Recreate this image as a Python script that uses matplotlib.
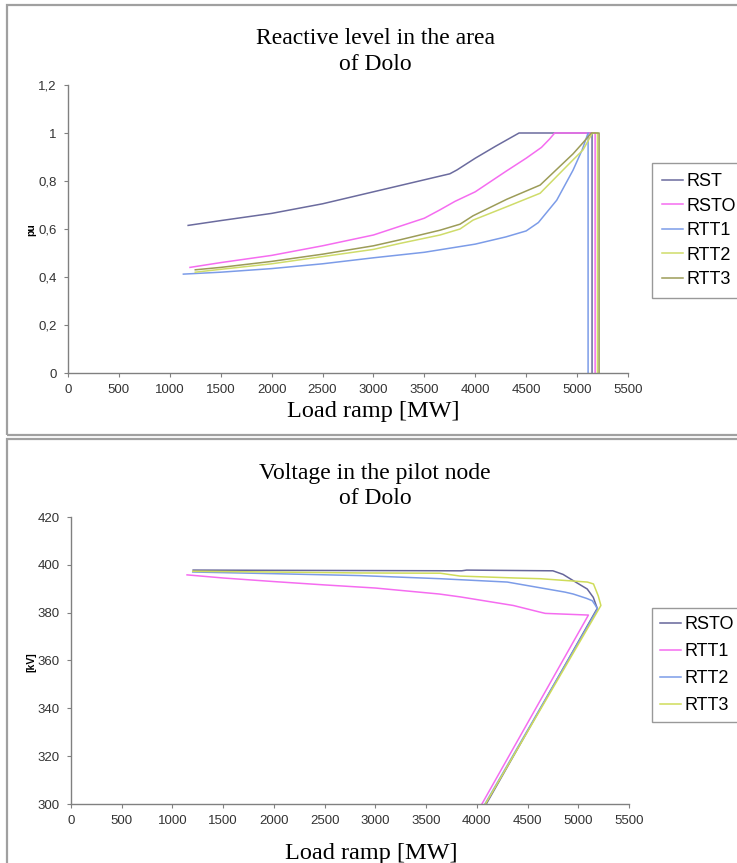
import matplotlib
matplotlib.use("Agg")
import matplotlib.pyplot as plt
from matplotlib.patches import Rectangle
from matplotlib.ticker import FuncFormatter

# ---- Reactive level in the area of Dolo (pu) ----
rst_x = [1180, 1500, 2000, 2500, 3000, 3500, 3750, 3820, 4000, 4200, 4430, 5147, 5147]
rst_y = [0.615, 0.635, 0.665, 0.705, 0.755, 0.805, 0.83, 0.846, 0.895, 0.945, 1.0, 1.0, 0.0]

rsto_x = [1198, 1500, 2000, 2500, 3000, 3500, 3654, 3800, 4000, 4300, 4500, 4650, 4730, 4780, 5177, 5177]
rsto_y = [0.44, 0.46, 0.49, 0.53, 0.575, 0.645, 0.68, 0.715, 0.755, 0.84, 0.895, 0.94, 0.975, 1.0, 1.0, 0.0]

rtt1_x = [1133, 1500, 2000, 2500, 3000, 3500, 4000, 4300, 4500, 4620, 4800, 4960, 5050, 5108, 5108]
rtt1_y = [0.412, 0.42, 0.435, 0.455, 0.48, 0.503, 0.537, 0.567, 0.592, 0.627, 0.72, 0.845, 0.93, 1.0, 0.0]

rtt2_x = [1250, 1500, 2000, 2500, 3000, 3261, 3654, 3850, 3978, 4310, 4637, 4960, 5059, 5150, 5200, 5200]
rtt2_y = [0.42, 0.432, 0.455, 0.485, 0.515, 0.54, 0.575, 0.6, 0.637, 0.693, 0.749, 0.888, 0.93, 1.0, 1.0, 0.0]

rtt3_x = [1250, 1500, 2000, 2500, 3000, 3261, 3654, 3850, 3978, 4310, 4637, 4960, 5059, 5140, 5216, 5216]
rtt3_y = [0.43, 0.44, 0.465, 0.495, 0.53, 0.555, 0.595, 0.62, 0.655, 0.724, 0.783, 0.913, 0.96, 1.0, 1.0, 0.0]

# ---- Voltage in the pilot node of Dolo (kV) ----
v_rsto_x = [1204, 2000, 3000, 3850, 3900, 4750, 4850, 4950, 5088, 5148, 5187, 4093]
v_rsto_y = [397.8, 397.7, 397.6, 397.5, 397.8, 397.5, 396.0, 393.4, 389.9, 386.4, 381.8, 300]

v_rtt1_x = [1144, 1500, 2000, 2500, 3000, 3629, 3836, 4360, 4625, 4675, 5100, 4050]
v_rtt1_y = [395.8, 394.5, 393.0, 391.6, 390.3, 387.8, 386.6, 383.0, 380.2, 379.7, 379.0, 300]

v_rtt2_x = [1200, 2000, 2850, 3639, 4300, 4868, 4950, 5080, 5138, 5170, 5190, 4080]
v_rtt2_y = [397.0, 396.3, 395.5, 394.2, 392.8, 388.6, 387.8, 386.0, 385.0, 383.0, 381.5, 300]

v_rtt3_x = [1200, 2000, 2850, 3639, 3836, 4375, 4625, 5090, 5150, 5197, 5223, 4085]
v_rtt3_y = [397.3, 397.0, 396.6, 396.5, 395.3, 394.5, 394.2, 392.8, 392.0, 387.0, 383.0, 300]

top_names = ["RST", "RSTO", "RTT1", "RTT2", "RTT3"]
top_colors = ["#6b6b9e", "#f56cf0", "#7c9ce8", "#cfdc6a", "#9c9c58"]
bot_names = ["RSTO", "RTT1", "RTT2", "RTT3"]
bot_colors = ["#66669a", "#f56cf0", "#7c9ce8", "#cfdc5a"]

W, H = 737, 863
fig = plt.figure(figsize=(W / 100, H / 100), dpi=100)

def fx(px):
    return px / W

def fy(py):
    return 1 - py / H

# grey frames around the two charts
for (x0, y0, x1, y1) in [(7, 5, 760, 435), (7, 439, 760, 890)]:
    fig.patches.append(Rectangle((fx(x0), fy(y1)), fx(x1) - fx(x0), fy(y0) - fy(y1),
                                 transform=fig.transFigure, fill=False,
                                 edgecolor="#a0a0a0", linewidth=1.6))

serif = "Liberation Serif"
sans = "Liberation Sans"

def style_axes(ax):
    for s in ["top", "right"]:
        ax.spines[s].set_visible(False)
    for s in ["left", "bottom"]:
        ax.spines[s].set_color("#808080")
        ax.spines[s].set_linewidth(1.0)
    ax.tick_params(direction="out", length=3, width=0.8, color="#808080",
                   labelsize=9.5, labelcolor="#333333", pad=5)
    for lab in ax.get_xticklabels() + ax.get_yticklabels():
        lab.set_family(sans)
    ax.set_xlim(0, 5500)
    ax.set_xticks(range(0, 5501, 500))

# top chart
ax1 = fig.add_axes([fx(68), fy(373), fx(628) - fx(68), fy(85) - fy(373)])
series = [(rst_x, rst_y), (rsto_x, rsto_y), (rtt1_x, rtt1_y), (rtt2_x, rtt2_y), (rtt3_x, rtt3_y)]
for (xs, ys), name, c in zip(series, top_names, top_colors):
    ax1.plot(xs, ys, color=c, lw=1.1, label=name)
ax1.set_ylim(0, 1.2)
ax1.set_yticks([0, 0.2, 0.4, 0.6, 0.8, 1.0, 1.2])
ax1.yaxis.set_major_formatter(FuncFormatter(lambda v, p: ("%g" % round(v, 1)).replace(".", ",")))
style_axes(ax1)
leg1 = ax1.legend(loc="upper left", bbox_to_anchor=(fx(652), fy(163)), bbox_transform=fig.transFigure,
                  prop={"family": sans, "size": 13}, frameon=True, fancybox=False,
                  edgecolor="#808080", handlelength=1.15, handletextpad=0.2,
                  labelspacing=0.42, borderpad=0.55, borderaxespad=0)
leg1.get_frame().set_linewidth(1.0)

fig.text(fx(375), fy(38), "Reactive level in the area", ha="center", va="center", family=serif, fontsize=17)
fig.text(fx(375), fy(64), "of Dolo", ha="center", va="center", family=serif, fontsize=17)
fig.text(fx(373), fy(411), "Load ramp [MW]", ha="center", va="center", family=serif, fontsize=17.5)
fig.text(fx(31), fy(230), "pu", ha="center", va="center", rotation=90, family=sans,
         fontsize=7.5, fontweight="bold")

# bottom chart
ax2 = fig.add_axes([fx(71), fy(804), fx(629) - fx(71), fy(517) - fy(804)])
series2 = [(v_rsto_x, v_rsto_y), (v_rtt1_x, v_rtt1_y), (v_rtt2_x, v_rtt2_y), (v_rtt3_x, v_rtt3_y)]
for (xs, ys), name, c in zip(series2, bot_names, bot_colors):
    ax2.plot(xs, ys, color=c, lw=1.1, label=name)
ax2.set_ylim(300, 420)
ax2.set_yticks(range(300, 421, 20))
style_axes(ax2)
leg2 = ax2.legend(loc="upper left", bbox_to_anchor=(fx(652), fy(608)), bbox_transform=fig.transFigure,
                  prop={"family": sans, "size": 13}, frameon=True, fancybox=False,
                  edgecolor="#808080", handlelength=1.15, handletextpad=0.2,
                  labelspacing=0.55, borderpad=0.45, borderaxespad=0)
leg2.get_frame().set_linewidth(1.0)

fig.text(fx(375), fy(473), "Voltage in the pilot node", ha="center", va="center", family=serif, fontsize=17)
fig.text(fx(375), fy(498), "of Dolo", ha="center", va="center", family=serif, fontsize=17)
fig.text(fx(371), fy(853), "Load ramp [MW]", ha="center", va="center", family=serif, fontsize=17.5)
fig.text(fx(31), fy(662), "[kV]", ha="center", va="center", rotation=90, family=sans,
         fontsize=7.5, fontweight="bold")

fig.savefig("out.png", dpi=100)
